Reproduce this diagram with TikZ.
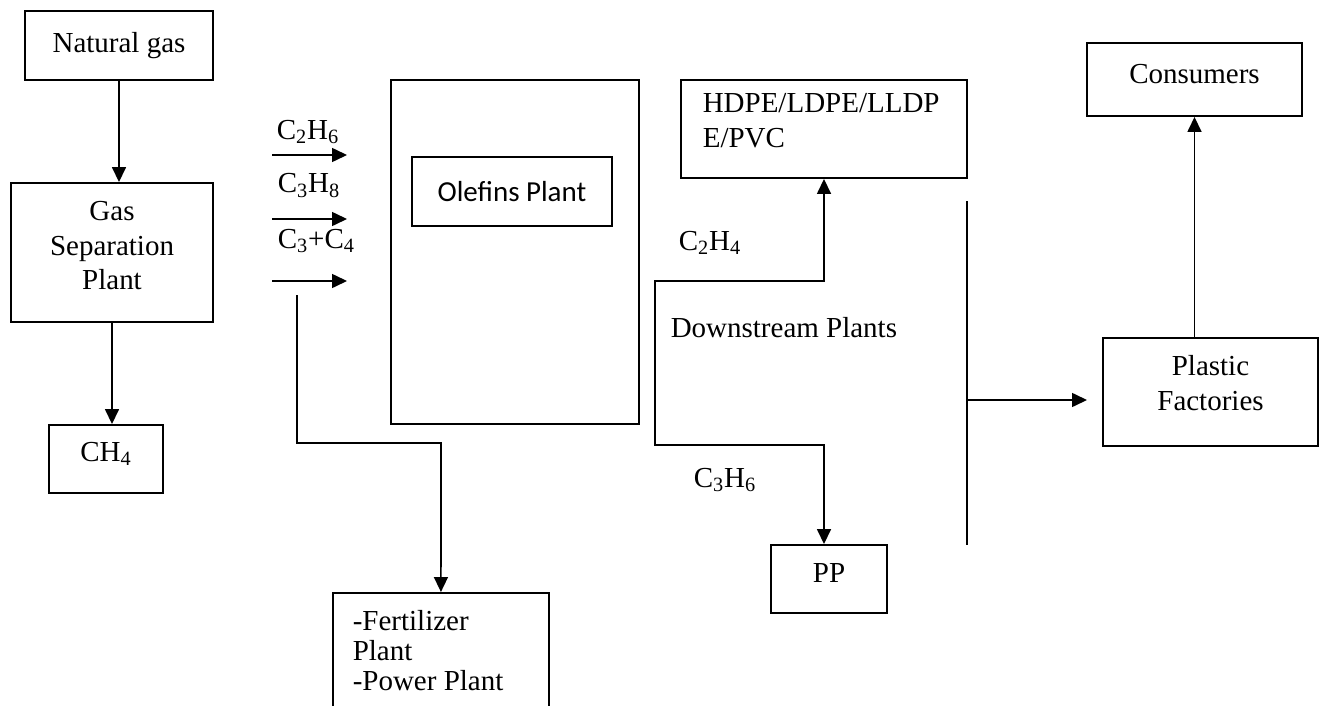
\documentclass[tikz,border=0pt]{standalone}
\usepackage{fontspec}
\setmainfont{Liberation Serif}
\newfontfamily\calibri{Carlito}
\usetikzlibrary{arrows.meta}

\begin{document}
\begin{tikzpicture}[x=0.02cm,y=-0.02cm,line width=0.9pt,>={Triangle[length=0.3cm,width=0.28cm]},
	font=\fontsize{16.5}{19.5}\selectfont,
	box/.style={draw,line width=1.1pt,align=center,inner sep=0pt},
	lbl/.style={inner sep=0pt,anchor=base west}]
	
	\useasboundingbox (0,0) rectangle (1322,706);
	\clip (0,0) rectangle (1322,706);
	
	% gas separation
	\node[box,minimum width=3.76cm,minimum height=1.38cm] (ng) at (119,45.5) {Natural gas};
	\node[box,minimum width=4.04cm,minimum height=2.78cm,text depth=0.28cm] (gsp) at (112,252.5) {Gas\\Separation\\Plant};
	\node[box,minimum width=2.28cm,minimum height=1.36cm,text depth=0.3cm] (ch4) at (106,459) {CH\textsubscript{4}};
	\draw[->] (ng.south) -- (ng.south |- gsp.north);
	\draw[->] (gsp.south) -- (gsp.south |- ch4.north);
	
	% olefins
	\node[box,minimum width=4.96cm,minimum height=6.88cm] (ol) at (515,252) {};
	\node[box,minimum width=4cm,minimum height=1.38cm,font=\calibri\fontsize{16.5}{19.5}\selectfont] (op) at (512,191.5) {Olefins Plant};
	\foreach \y [count=\i] in {155,219,281} {
		\coordinate (feed\i s) at (272,\y);
		\coordinate (feed\i e) at (347,\y);
		\draw[->] (feed\i s) -- (feed\i e);
	}
	\node[lbl] (c2h6) at (276,139) {C\textsubscript{2}H\textsubscript{6}};
	\node[lbl] (c3h8) at (277,193) {C\textsubscript{3}H\textsubscript{8}};
	\node[lbl] (c34) at (277,248) {C\textsubscript{3}+C\textsubscript{4}};
	
	% fertilizer / power
	\node[box,anchor=north west,minimum width=4.32cm,minimum height=3cm] (fert) at (332,592) {};
	\node[inner sep=0pt,anchor=north west,align=left,font=\fontsize{16.5}{17}\selectfont] (ferttext) at (352,610) {-Fertilizer\\Plant\\-Power Plant};
	\coordinate (fstart) at (297,295);
	\coordinate (fbend) at (441,443);
	\draw[->] (fstart) |- (fbend) -- (fert.north);
	
	% downstream
	\node[box,minimum width=5.72cm,minimum height=1.96cm] (hdpe) at (824,129) {};
	\node[inner sep=0pt,anchor=north west,align=left,font=\fontsize{16.5}{19.5}\selectfont] (hdpetext) at (702,93) {HDPE/LDPE/LLDP\\E/PVC};
	\node[box,minimum width=2.32cm,minimum height=1.36cm,text depth=0.24cm] (pp) at (829,579) {PP};
	\coordinate (dtop) at (655,281);
	\coordinate (dbot) at (655,445);
	\draw[<->] (hdpe.south) |- (dtop) -- (dbot) -| (hdpe.south |- pp.north);
	\node[lbl] (c2h4) at (678,250) {C\textsubscript{2}H\textsubscript{4}};
	\node[lbl] (dsp) at (670,337) {Downstream Plants};
	\node[lbl] (c3h6) at (693,487) {C\textsubscript{3}H\textsubscript{6}};
	
	% plastic and consumers
	\node[box,minimum width=4.3cm,minimum height=2.16cm,text depth=0.36cm] (plast) at (1210.5,392) {Plastic\\Factories};
	\node[box,minimum width=4.3cm,minimum height=1.46cm,text depth=0.24cm] (cons) at (1194.5,79.5) {Consumers};
	\coordinate (bustop) at (967,201);
	\coordinate (busbot) at (967,545);
	\coordinate (busmid) at (967,400);
	\coordinate (pfin) at (1087,400);
	\draw (bustop) -- (busbot);
	\draw[->] (busmid) -- (pfin);
	\draw[->] (cons.south |- plast.north) -- (cons.south);
\end{tikzpicture}
\end{document}
